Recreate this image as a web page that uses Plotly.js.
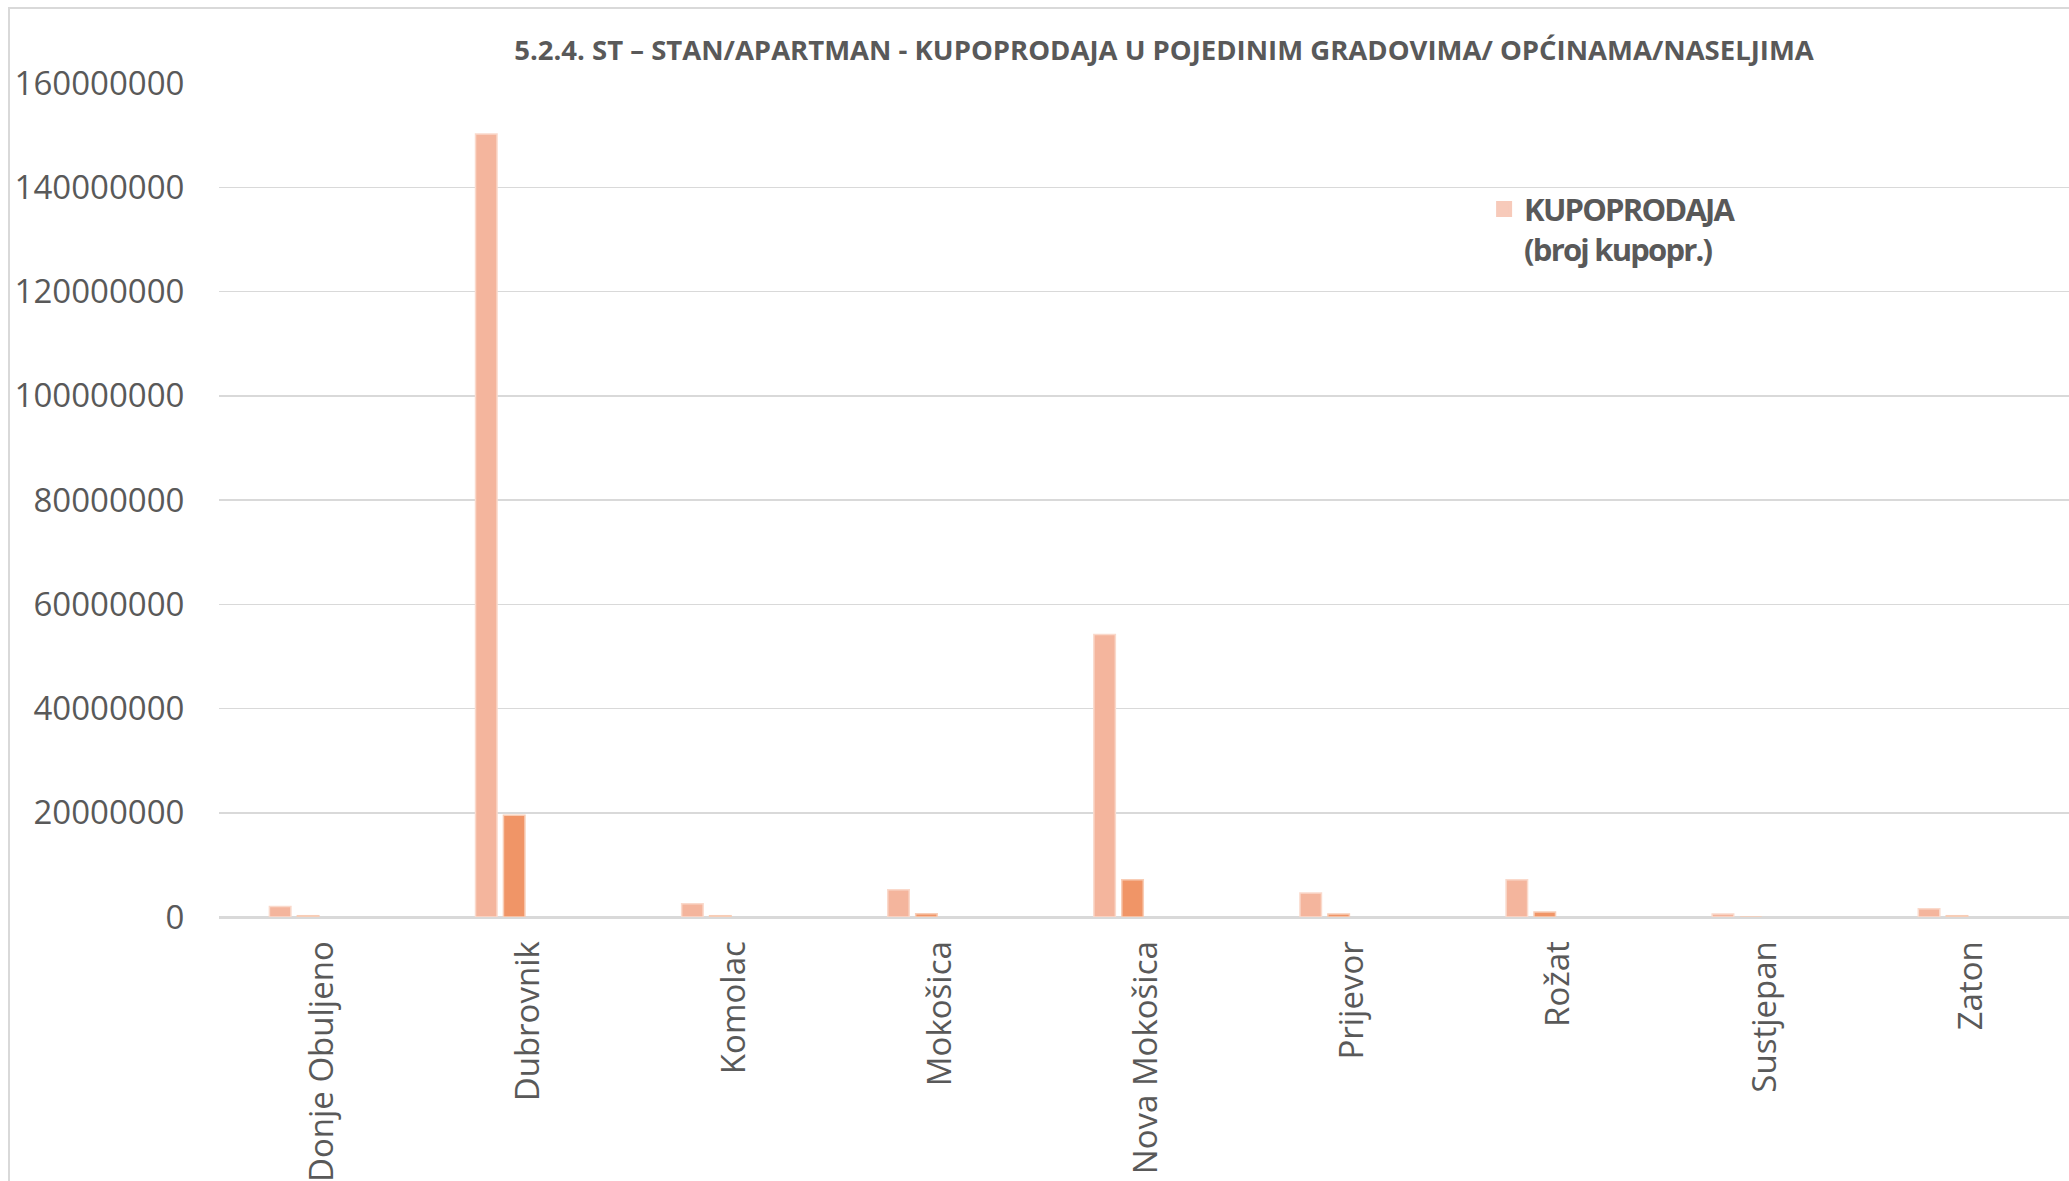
<!DOCTYPE html>
<html>
<head>
<meta charset="utf-8">
<script src="https://cdn.plot.ly/plotly-3.0.1.min.js"></script>
<style>
  html, body { margin: 0; padding: 0; background: #fff; overflow: hidden; }
  #frame { position: absolute; left: 8px; top: 7px; width: 3000px; height: 3000px;
           border-left: 2px solid #D9D9D9; border-top: 2px solid #D9D9D9; pointer-events: none; }
  #chart { position: absolute; left: 0; top: 0; }
  #chart .legendtext { letter-spacing: -1.8px; }
</style>
</head>
<body>
<div id="chart"></div>
<div id="frame"></div>
<script>
// Categories (towns / settlements)
const categories = ["Donje Obuljeno", "Dubrovnik", "Komolac", "Mokošica", "Nova Mokošica",
                    "Prijevor", "Rožat", "Sustjepan", "Zaton"];

// Series values
const series1 = [2000000, 150200000, 2550000, 5240000, 54200000, 4600000, 7160000, 580000, 1600000];
const series2 = [250000, 19500000, 250000, 640000, 7160000, 580000, 960000, 0, 250000];
// "KUPOPRODAJA (broj kupopr.)" - counts, not visible at this scale
const seriesCount = [null, null, null, null, null, null, null, null, null];
// fourth series, not visible at this scale
const series4 = [null, null, null, null, null, null, null, null, null];

const legendName = "KUPOPRODAJA<br>(broj kupopr.)";
const titleText = "5.2.4. ST – STAN/APARTMAN - KUPOPRODAJA U POJEDINIM GRADOVIMA/ OPĆINAMA/NASELJIMA";
const yTicks = [0, 20000000, 40000000, 60000000, 80000000, 100000000, 120000000, 140000000, 160000000];

const traces = [
  { type: "bar", x: categories, y: series1, name: "s1", showlegend: false,
    marker: { color: "#F4B59D", line: { color: "#FAD9CB", width: 1.5 } } },
  { type: "bar", x: categories, y: series2, name: "s2", showlegend: false,
    marker: { color: "#F09567", line: { color: "#F8CDB6", width: 1.5 } } },
  { type: "bar", x: categories, y: seriesCount, name: legendName, showlegend: true,
    marker: { color: "#F7CABA", line: { color: "#F7CABA", width: 4 } } },
  { type: "bar", x: categories, y: series4, name: "s4", showlegend: false,
    marker: { color: "#FBE3D8", line: { width: 0 } } }
];

const grey = "#595959";
const layout = {
  width: 2078, height: 1181,
  margin: { l: 219, r: 4, t: 83, b: 264 },
  paper_bgcolor: "rgba(0,0,0,0)",
  plot_bgcolor: "rgba(0,0,0,0)",
  barmode: "group",
  bargap: 0.458,
  bargroupgap: 0.23,
  font: { family: "Open Sans, sans-serif", color: grey },
  title: {
    text: "<b>" + titleText + "</b>",
    font: { family: "Open Sans, sans-serif", size: 27.5, color: grey },
    xref: "container", yref: "container",
    x: 1164 / 2078, y: 1 - 50 / 1181, xanchor: "center", yanchor: "middle"
  },
  xaxis: {
    type: "category",
    tickangle: -90,
    tickfont: { size: 33, color: grey },
    ticks: "outside", ticklen: 10, tickcolor: "rgba(0,0,0,0)",
    showgrid: false, showline: false, zeroline: false
  },
  yaxis: {
    range: [0, 160000000],
    tickvals: yTicks,
    tickformat: "d",
    tickfont: { size: 33, color: grey },
    ticks: "outside", ticklen: 27, tickcolor: "rgba(0,0,0,0)",
    showgrid: true, gridcolor: "#D9D9D9", gridwidth: 1.5,
    zeroline: true, zerolinecolor: "#D9D9D9", zerolinewidth: 3,
    showline: false
  },
  showlegend: true,
  legend: {
    x: 0.682, y: 0.881, xanchor: "left", yanchor: "top",
    valign: "top",
    bgcolor: "rgba(0,0,0,0)",
    font: { family: "Open Sans, sans-serif", size: 31, color: grey, weight: "bold" }
  }
};

Plotly.newPlot("chart", traces, layout, { displayModeBar: false, staticPlot: true });
</script>
</body>
</html>
